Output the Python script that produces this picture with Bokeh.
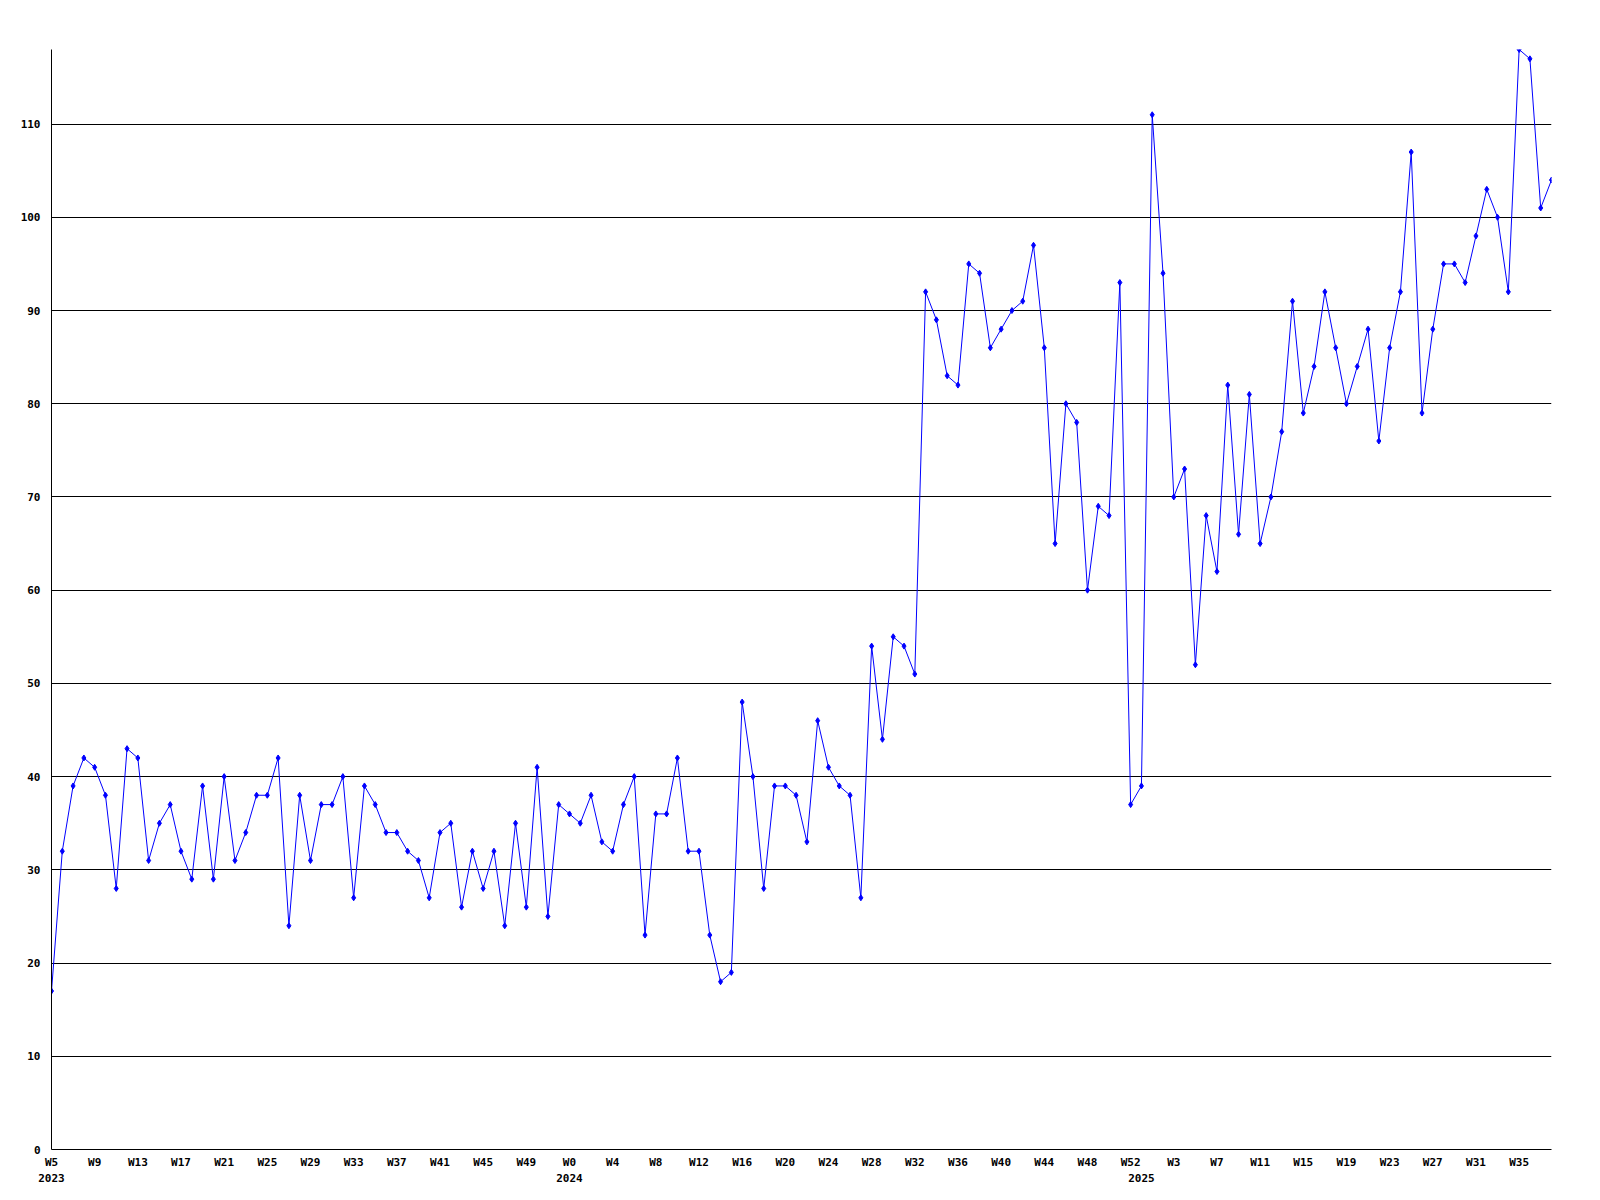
from bokeh.plotting import figure
from bokeh.models import Range1d, FixedTicker, LinearAxis, ColumnDataSource
from bokeh.embed import file_html
from bokeh.resources import INLINE

# ---- data (weekly values) ----
values_2023 = [17, 32, 39, 42, 41, 38, 28, 43, 42, 31, 35, 37, 32, 29, 39, 29,
               40, 31, 34, 38, 38, 42, 24, 38, 31, 37, 37, 40, 27, 39, 37, 34,
               34, 32, 31, 27, 34, 35, 26, 32, 28, 32, 24, 35, 26, 41, 25, 37]  # W5..W52
values_2024 = [36, 35, 38, 33, 32, 37, 40, 23, 36, 36, 42, 32, 32, 23, 18, 19,
               48, 40, 28, 39, 39, 38, 33, 46, 41, 39, 38, 27, 54, 44, 55, 54,
               51, 92, 89, 83, 82, 95, 94, 86, 88, 90, 91, 97, 86, 65, 80, 78,
               60, 69, 68, 93, 37]  # W0..W52
values_2025 = [39, 111, 94, 70, 73, 52, 68, 62, 82, 66, 81, 65, 70, 77, 91, 79,
               84, 92, 86, 80, 84, 88, 76, 86, 92, 107, 79, 88, 95, 95, 93, 98,
               103, 100, 92, 118, 117, 101, 104]  # W0..W38

first_week = {"2023": 5, "2024": 0, "2025": 0}
year_labels = ["2023", "2024", "2025"]
y_ticks = [0, 10, 20, 30, 40, 50, 60, 70, 80, 90, 100, 110]
tick_every = 4

series = [values_2023, values_2024, values_2025]
labels = []
vals = []
year_start_idx = []
for yl, s in zip(year_labels, series):
    year_start_idx.append(len(vals))
    for k, v in enumerate(s):
        labels.append("W%d" % (first_week[yl] + k))
        vals.append(v)
idx = list(range(len(vals)))

src = ColumnDataSource(dict(x=idx, y=vals))

FONT = "DejaVu Sans Mono"

p = figure(width=1592, height=1184, output_backend="svg", toolbar_location=None,
           x_range=Range1d(0, len(vals) - 1), y_range=Range1d(0, max(vals)),
           min_border_left=51, min_border_right=41, min_border_top=49, min_border_bottom=10)
p.outline_line_color = None
p.background_fill_color = "white"
p.border_fill_color = "white"

p.line("x", "y", source=src, line_color="#0000ff", line_width=1)
p.scatter("x", "y", source=src, marker="diamond", size=6, color="#0000ff")

# grid
p.xgrid.grid_line_color = None
p.ygrid.grid_line_color = "black"
p.ygrid.grid_line_width = 1
p.ygrid.ticker = FixedTicker(ticks=y_ticks)

# y axis
ya = p.yaxis[0]
ya.ticker = FixedTicker(ticks=y_ticks)
ya.axis_line_color = "black"
ya.axis_line_width = 1
ya.major_tick_line_color = None
ya.minor_tick_line_color = None
ya.major_tick_out = 0
ya.major_tick_in = 0
ya.major_label_standoff = 11
ya.major_label_text_font = FONT
ya.major_label_text_font_style = "bold"
ya.major_label_text_font_size = "11px"
ya.major_label_text_color = "black"

# x axis (weeks)
xa = p.xaxis[0]
week_ticks = idx[::tick_every]
xa.ticker = FixedTicker(ticks=week_ticks)
xa.major_label_overrides = {i: labels[i] for i in week_ticks}
xa.axis_line_color = "black"
xa.major_tick_line_color = None
xa.minor_tick_line_color = None
xa.major_tick_out = 0
xa.major_tick_in = 0
xa.major_label_standoff = 6
xa.major_label_text_font = FONT
xa.major_label_text_font_style = "bold"
xa.major_label_text_font_size = "11px"
xa.major_label_text_color = "black"

# second axis: years
ya2 = LinearAxis(ticker=FixedTicker(ticks=year_start_idx),
                 major_label_overrides={i: y for i, y in zip(year_start_idx, year_labels)})
ya2.axis_line_color = None
ya2.major_tick_line_color = None
ya2.minor_tick_line_color = None
ya2.major_tick_out = 0
ya2.major_tick_in = 0
ya2.major_label_standoff = 2
ya2.major_label_text_font = FONT
ya2.major_label_text_font_style = "bold"
ya2.major_label_text_font_size = "11px"
ya2.major_label_text_color = "black"
p.add_layout(ya2, "below")

open("out.html", "w").write(file_html(p, INLINE))
